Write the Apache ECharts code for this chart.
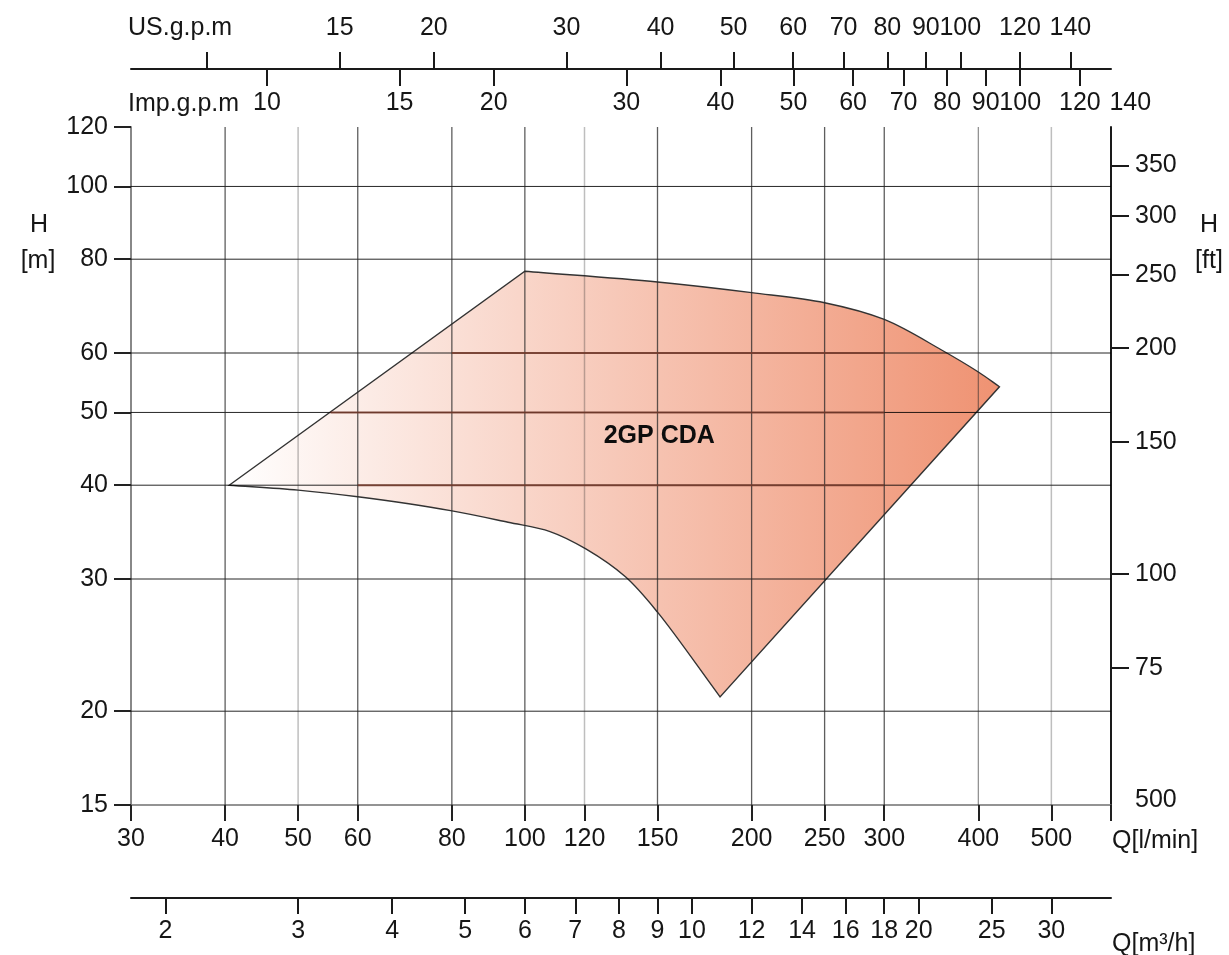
<!DOCTYPE html>
<html>
<head>
<meta charset="utf-8">
<script src="https://cdn.jsdelivr.net/npm/echarts@6/dist/echarts.min.js"></script>
<style>
  html, body { margin: 0; padding: 0; background: #ffffff; }
  #chart { width: 1229px; height: 955px; }
</style>
</head>
<body>
<div id="chart"></div>
<script>
// ---- ranges and unit conversions ----
const qMin = 30, qMax = 600;          // flow, l/min
const hMin = 15, hMax = 120;          // head, m
const L_PER_USGAL = 3.785;
const L_PER_IMPGAL = 4.546;
const M3H_PER_LMIN = 0.06;
const M_PER_FT = 0.3048;
const impAxisEnd = 140;               // Imp.g.p.m label placed just past the frame

// ---- tick values and labels ----
const qTicks = [30, 40, 50, 60, 80, 100, 120, 150, 200, 250, 300, 400, 500, 600];
const qLabels = [30, 40, 50, 60, 80, 100, 120, 150, 200, 250, 300, 400, 500];
const usTicks = [10, 15, 20, 30, 40, 50, 60, 70, 80, 90, 100, 120, 140];
const usLabels = [15, 20, 30, 40, 50, 60, 70, 80, 90, 100, 120, 140];
const impTicks = [10, 15, 20, 30, 40, 50, 60, 70, 80, 90, 100, 120];
const impLabels = [10, 15, 20, 30, 40, 50, 60, 70, 80, 90, 100, 120, 140];
const m3hTicks = [2, 3, 4, 5, 6, 7, 8, 9, 10, 12, 14, 16, 18, 20, 25, 30];
const hTicks = [15, 20, 30, 40, 50, 60, 80, 100, 120];
const ftTicks = [75, 100, 150, 200, 250, 300, 350];
const ftLabelValues = [50, 75, 100, 150, 200, 250, 300, 350];
const ftLabelTexts = ['500', '75', '100', '150', '200', '250', '300', '350'];

// ---- grid lines ----
const hGrid = [20, 30, 40, 50, 60, 80, 100];
const qGridDark = [40, 60, 80, 100, 150, 200, 250, 300];
const qGridMid = [400];
const qGridLight = [50, 120, 500];
// reinforced head lines across the field: [q start, q end, head]
const fieldLines = [[80, 300, 60], [55.2, 300, 50], [60, 300, 40]];

// ---- 2GP CDA operating field (l/min, m) ----
const fieldStart = [40.5, 40];
const topCurve = [[100, 77.1], [150, 74.6], [200, 72.2], [250, 70.0], [300, 66.5],
                  [357, 60.6], [400, 56.6], [426.6, 54.1]];
const bottomCurve = [[181.6, 20.9], [150, 27.1], [136, 30.2], [120.5, 32.9], [108, 34.7],
                     [95, 35.7], [79.7, 37.0], [60, 38.6], [50, 39.4], [40.5, 40]];
const modelName = '2GP CDA';
const modelLabelPos = [150.8, 46.5];

// ---- layout ----
const FONT = "'Liberation Sans', Arial, sans-serif";
const FS = 25;
const TXT = '#161616';
const plotLeft = 131, plotTop = 127, plotW = 980, plotH = 678;

const lg = Math.log10;
const fmt = v => String(Math.round(Math.pow(10, v)));
const ftText = v => {
  const raw = Math.pow(10, v);
  let best = 0;
  ftLabelValues.forEach((f, i) => { if (Math.abs(f - raw) < Math.abs(ftLabelValues[best] - raw)) best = i; });
  return ftLabelTexts[best];
};

// width of the Imp.g.p.m scale that reaches its last label value
const decades = lg(qMax / qMin);
const impW = plotW * lg(impAxisEnd * L_PER_IMPGAL / qMin) / decades;

// centripetal Catmull-Rom through pixel points, as cubic Bezier segments
function smoothPath(pts) {
  const dist = (a, b) => Math.sqrt(Math.hypot(b[0] - a[0], b[1] - a[1]));
  let d = '';
  for (let i = 0; i < pts.length - 1; i++) {
    const p1 = pts[i], p2 = pts[i + 1];
    const p0 = i > 0 ? pts[i - 1] : null;
    const p3 = i + 2 < pts.length ? pts[i + 2] : null;
    const d2 = dist(p1, p2);
    let c1, c2;
    if (p0) {
      const d1 = dist(p0, p1);
      const k = 3 * d1 * (d1 + d2);
      c1 = [0, 1].map(j => (d1 * d1 * p2[j] - d2 * d2 * p0[j] + (2 * d1 * d1 + 3 * d1 * d2 + d2 * d2) * p1[j]) / k);
    } else {
      c1 = [0, 1].map(j => p1[j] + (p2[j] - p1[j]) / 3);
    }
    if (p3) {
      const d3 = dist(p2, p3);
      const k = 3 * d3 * (d3 + d2);
      c2 = [0, 1].map(j => (d3 * d3 * p1[j] - d2 * d2 * p3[j] + (2 * d3 * d3 + 3 * d3 * d2 + d2 * d2) * p2[j]) / k);
    } else {
      c2 = [0, 1].map(j => p2[j] + (p1[j] - p2[j]) / 3);
    }
    d += ' C' + c1[0] + ',' + c1[1] + ' ' + c2[0] + ',' + c2[1] + ' ' + p2[0] + ',' + p2[1];
  }
  return d;
}

function axisText(extra) {
  return Object.assign({ fontFamily: FONT, fontSize: FS, color: TXT }, extra || {});
}

function gridSeries(data, color, width, z) {
  return {
    type: 'line', xAxisIndex: 0, yAxisIndex: 0, data: data,
    symbol: 'none', silent: true, animation: false, z: z,
    lineStyle: { color: color, width: width }
  };
}

const series = [];

// operating field
series.push({
  type: 'custom', xAxisIndex: 0, yAxisIndex: 0, z: 2, silent: true, animation: false,
  data: [[lg(fieldStart[0]), lg(fieldStart[1])]],
  renderItem: function (params, api) {
    const P = p => api.coord([lg(p[0]), lg(p[1])]);
    const s = P(fieldStart);
    const top = topCurve.map(P);
    const bot = bottomCurve.map(P);
    let d = 'M' + s[0] + ',' + s[1] + ' L' + top[0][0] + ',' + top[0][1];
    d += smoothPath(top);
    d += ' L' + bot[0][0] + ',' + bot[0][1];
    d += smoothPath(bot);
    d += ' Z';
    return {
      type: 'path',
      shape: { pathData: d },
      style: {
        fill: new echarts.graphic.LinearGradient(0, 0, 1, 0, [
          { offset: 0, color: '#ffffff' },
          { offset: 1, color: 'rgb(239,146,114)' }
        ]),
        stroke: '#333333',
        lineWidth: 1.4
      }
    };
  }
});

// head grid lines
hGrid.forEach(h => series.push(gridSeries([[lg(qMin), lg(h)], [lg(qMax), lg(h)]], 'rgba(0,0,0,0.85)', 1, 3)));
// flow grid lines
qGridDark.forEach(q => series.push(gridSeries([[lg(q), lg(hMin)], [lg(q), lg(hMax)]], 'rgba(40,40,40,0.75)', 1.3, 3)));
qGridMid.forEach(q => series.push(gridSeries([[lg(q), lg(hMin)], [lg(q), lg(hMax)]], 'rgba(40,40,40,0.5)', 1.3, 3)));
qGridLight.forEach(q => series.push(gridSeries([[lg(q), lg(hMin)], [lg(q), lg(hMax)]], 'rgba(40,40,40,0.3)', 1.5, 3)));
// reinforced lines inside the field
fieldLines.forEach(f => series.push(gridSeries([[lg(f[0]), lg(f[2])], [lg(f[1]), lg(f[2])]], 'rgba(120,60,45,0.85)', 2, 4)));

// model name
series.push({
  type: 'custom', xAxisIndex: 0, yAxisIndex: 0, z: 6, silent: true, animation: false,
  data: [[lg(modelLabelPos[0]), lg(modelLabelPos[1])]],
  renderItem: function (params, api) {
    const c = api.coord([api.value(0), api.value(1)]);
    return {
      type: 'text', x: c[0], y: c[1],
      style: {
        text: modelName, fill: '#0d0d0d',
        font: 'bold 25px ' + FONT, align: 'center', verticalAlign: 'middle'
      }
    };
  }
});

const hiddenY = gi => ({
  type: 'value', gridIndex: gi, min: 0, max: 1,
  show: false, axisLine: { show: false }, axisTick: { show: false }, axisLabel: { show: false }, splitLine: { show: false }
});

const txt = (x, y, text, align) => ({
  type: 'text', x: x, y: y,
  style: { text: text, fill: TXT, font: FS + 'px ' + FONT, align: align, verticalAlign: 'middle' }
});

const option = {
  backgroundColor: '#ffffff',
  animation: false,
  grid: [
    { left: plotLeft, top: plotTop, width: plotW, height: plotH },
    { left: plotLeft, top: 68, width: plotW, height: 1 },
    { left: plotLeft, top: 67, width: impW, height: 1 },
    { left: plotLeft, top: 897, width: plotW, height: 1 }
  ],
  xAxis: [
    {
      type: 'value', gridIndex: 0, position: 'bottom',
      min: lg(qMin), max: lg(qMax),
      axisLine: { show: true, lineStyle: { color: '#707070', width: 1.5 } },
      axisTick: { show: true, customValues: qTicks.map(lg), length: 16, lineStyle: { color: '#222', width: 2 } },
      axisLabel: axisText({ customValues: qLabels.map(lg), formatter: fmt, margin: 22 }),
      splitLine: { show: false }
    },
    {
      type: 'value', gridIndex: 1, position: 'top',
      min: lg(qMin / L_PER_USGAL), max: lg(qMax / L_PER_USGAL),
      axisLine: { show: true, lineStyle: { color: '#1a1a1a', width: 2 } },
      axisTick: { show: true, customValues: usTicks.map(lg), length: 17, lineStyle: { color: '#1a1a1a', width: 2 } },
      axisLabel: axisText({ customValues: usLabels.map(lg), formatter: fmt, margin: 27 }),
      splitLine: { show: false }
    },
    {
      type: 'value', gridIndex: 2, position: 'bottom',
      min: lg(qMin / L_PER_IMPGAL), max: lg(impAxisEnd),
      axisLine: { show: false },
      axisTick: { show: true, customValues: impTicks.map(lg), length: 18, lineStyle: { color: '#1a1a1a', width: 2 } },
      axisLabel: axisText({ customValues: impLabels.map(lg), formatter: fmt, margin: 23 }),
      splitLine: { show: false }
    },
    {
      type: 'value', gridIndex: 3, position: 'bottom',
      min: lg(qMin * M3H_PER_LMIN), max: lg(qMax * M3H_PER_LMIN),
      axisLine: { show: true, lineStyle: { color: '#1a1a1a', width: 2 } },
      axisTick: { show: true, customValues: m3hTicks.map(lg), length: 16, lineStyle: { color: '#1a1a1a', width: 2 } },
      axisLabel: axisText({ customValues: m3hTicks.map(lg), formatter: fmt, margin: 21 }),
      splitLine: { show: false }
    }
  ],
  yAxis: [
    {
      type: 'value', gridIndex: 0, position: 'left',
      min: lg(hMin), max: lg(hMax),
      axisLine: { show: true, lineStyle: { color: '#888888', width: 2 } },
      axisTick: { show: true, customValues: hTicks.map(lg), length: 17, lineStyle: { color: '#222', width: 2 } },
      axisLabel: axisText({ customValues: hTicks.map(lg), formatter: fmt, margin: 23 }),
      splitLine: { show: false }
    },
    {
      type: 'value', gridIndex: 0, position: 'right',
      min: lg(hMin / M_PER_FT), max: lg(hMax / M_PER_FT),
      axisLine: { show: true, lineStyle: { color: '#1a1a1a', width: 2 } },
      axisTick: { show: true, customValues: ftTicks.map(lg), length: 18, lineStyle: { color: '#1a1a1a', width: 2 } },
      axisLabel: axisText({ customValues: ftLabelValues.map(lg), formatter: ftText, margin: 24 }),
      splitLine: { show: false }
    },
    hiddenY(1), hiddenY(2), hiddenY(3)
  ],
  graphic: [
    txt(128, 28, 'US.g.p.m', 'left'),
    txt(128, 104, 'Imp.g.p.m', 'left'),
    txt(39, 225, 'H', 'center'),
    txt(38, 261, '[m]', 'center'),
    txt(1209, 225, 'H', 'center'),
    txt(1209, 261, '[ft]', 'center'),
    txt(1112, 841, 'Q[l/min]', 'left'),
    txt(1112, 944, 'Q[m³/h]', 'left')
  ],
  series: series
};

const chart = echarts.init(document.getElementById('chart'), null, { renderer: 'canvas' });
chart.setOption(option);
</script>
</body>
</html>
